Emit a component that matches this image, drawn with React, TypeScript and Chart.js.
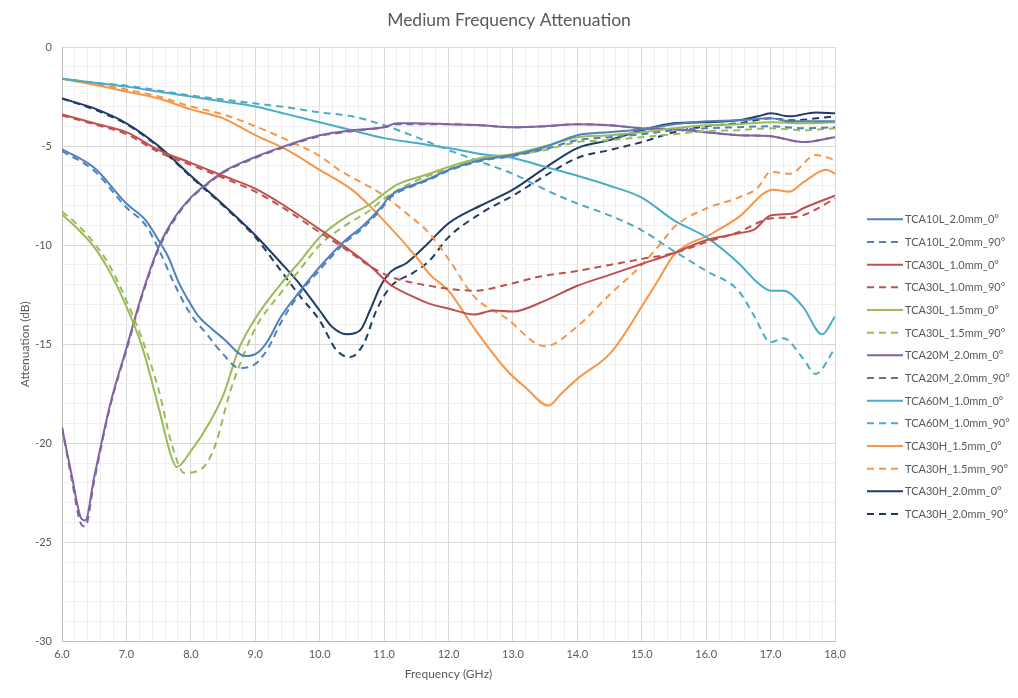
import React, { useEffect, useRef } from 'react';
import Chart from 'chart.js/auto';

type Pt = [number, number];

// [frequency GHz, attenuation dB]
const TCA10L_20_0: Pt[] = [[6.0,-5.15],[6.5,-6.1],[7.0,-7.9],[7.3,-8.75],[7.5,-9.76],[7.65,-10.6],[7.8,-11.8],[8.0,-13.0],[8.12,-13.6],[8.28,-14.1],[8.5,-14.7],[8.85,-15.6],[9.05,-15.4],[9.2,-14.8],[9.4,-13.6],[9.7,-12.3],[10.0,-11.1],[10.4,-9.75],[10.65,-9.1],[10.95,-8.1],[11.1,-7.5],[11.5,-6.9],[11.7,-6.65],[12.0,-6.2],[12.5,-5.7],[13.0,-5.45],[13.5,-5.05],[14.0,-4.45],[14.5,-4.3],[15.0,-4.15],[15.5,-3.9],[16.0,-3.75],[16.5,-3.7],[17.0,-3.6],[17.3,-3.75],[18.0,-3.75]];
const TCA10L_20_90: Pt[] = [[6.0,-5.25],[6.5,-6.25],[7.0,-8.1],[7.3,-9.0],[7.5,-10.2],[7.75,-12.0],[8.0,-13.5],[8.25,-14.5],[8.5,-15.5],[8.75,-16.2],[9.0,-16.0],[9.2,-15.2],[9.4,-13.9],[9.7,-12.4],[10.0,-11.25],[10.4,-9.85],[10.65,-9.2],[10.95,-8.2],[11.1,-7.6],[11.5,-6.95],[11.7,-6.7],[12.0,-6.25],[12.5,-5.75],[13.0,-5.5],[13.5,-5.15],[14.0,-4.7],[14.5,-4.55],[15.0,-4.4],[15.5,-4.2],[16.0,-4.1],[16.5,-4.05],[17.0,-4.0],[17.5,-4.1],[18.0,-4.05]];
const TCA30L_10_0: Pt[] = [[6.0,-3.4],[6.5,-3.85],[7.0,-4.3],[7.5,-5.2],[8.0,-5.85],[8.5,-6.5],[9.0,-7.15],[9.4,-7.9],[10.0,-9.2],[10.4,-10.1],[10.8,-11.1],[11.1,-12.0],[11.45,-12.6],[11.7,-12.95],[12.0,-13.2],[12.4,-13.5],[12.7,-13.3],[13.0,-13.35],[13.5,-12.8],[14.0,-12.05],[14.5,-11.5],[15.0,-10.95],[15.5,-10.4],[16.0,-9.75],[16.5,-9.4],[16.75,-9.2],[17.0,-8.5],[17.35,-8.4],[17.5,-8.15],[18.0,-7.5]];
const TCA30L_10_90: Pt[] = [[6.0,-3.45],[6.5,-3.9],[7.0,-4.4],[7.5,-5.3],[8.0,-5.95],[8.5,-6.6],[9.0,-7.3],[9.4,-8.05],[10.0,-9.35],[10.4,-10.2],[10.8,-11.1],[11.1,-11.6],[11.45,-11.9],[11.7,-12.05],[12.0,-12.2],[12.4,-12.3],[12.9,-12.0],[13.4,-11.6],[14.0,-11.3],[14.5,-11.0],[15.0,-10.7],[15.5,-10.4],[16.0,-9.85],[16.5,-9.35],[17.0,-8.65],[17.3,-8.6],[17.5,-8.5],[18.0,-7.65]];
const TCA30L_15_0: Pt[] = [[6.0,-8.45],[6.25,-9.2],[6.5,-10.1],[6.75,-11.4],[7.0,-13.1],[7.25,-15.2],[7.5,-18.2],[7.7,-20.7],[7.78,-21.2],[8.0,-20.4],[8.3,-18.9],[8.5,-17.6],[8.75,-15.2],[9.0,-13.7],[9.4,-11.95],[9.7,-10.8],[10.0,-9.6],[10.4,-8.6],[10.8,-7.9],[11.0,-7.4],[11.2,-6.95],[11.7,-6.4],[12.0,-6.05],[12.5,-5.6],[13.0,-5.4],[13.5,-5.0],[14.0,-4.55],[14.5,-4.45],[15.0,-4.3],[15.5,-4.1],[16.0,-3.95],[16.5,-3.9],[17.0,-3.8],[17.5,-3.85],[18.0,-3.8]];
const TCA30L_15_90: Pt[] = [[6.0,-8.3],[6.25,-9.0],[6.5,-9.9],[6.75,-11.1],[7.0,-12.8],[7.25,-14.8],[7.5,-17.3],[7.7,-20.0],[7.9,-21.5],[8.1,-21.4],[8.25,-21.0],[8.4,-19.9],[8.6,-17.5],[8.8,-15.7],[9.0,-14.2],[9.4,-12.4],[9.7,-11.2],[10.0,-10.0],[10.4,-9.0],[10.8,-8.2],[11.0,-7.65],[11.5,-6.75],[12.0,-6.15],[12.5,-5.7],[13.0,-5.45],[13.5,-5.2],[14.0,-4.8],[14.5,-4.7],[15.0,-4.55],[15.5,-4.4],[16.0,-4.25],[16.5,-4.2],[17.0,-4.1],[17.5,-4.2],[18.0,-4.1]];
const TCA20M_20_0: Pt[] = [[6.0,-19.2],[6.15,-21.6],[6.3,-23.8],[6.36,-23.9],[6.5,-21.7],[6.75,-18.0],[7.0,-15.2],[7.25,-12.4],[7.5,-10.1],[7.75,-8.6],[8.0,-7.6],[8.25,-6.9],[8.5,-6.3],[9.0,-5.55],[9.5,-4.95],[10.0,-4.45],[10.5,-4.2],[11.0,-4.05],[11.2,-3.85],[11.5,-3.85],[12.0,-3.9],[12.5,-3.95],[13.0,-4.05],[13.5,-4.0],[14.0,-3.9],[14.5,-3.95],[15.0,-4.1],[15.5,-4.15],[16.0,-4.3],[16.5,-4.45],[17.0,-4.5],[17.5,-4.8],[18.0,-4.55]];
const TCA20M_20_90: Pt[] = [[6.0,-19.2],[6.15,-21.8],[6.3,-24.1],[6.36,-24.2],[6.5,-21.9],[6.75,-18.1],[7.0,-15.3],[7.25,-12.5],[7.5,-10.2],[7.75,-8.7],[8.0,-7.65],[8.25,-6.95],[8.5,-6.35],[9.0,-5.6],[9.5,-5.0],[10.0,-4.5],[10.5,-4.25],[11.0,-4.05],[11.2,-3.9],[11.5,-3.9],[12.0,-3.9],[12.5,-3.95],[13.0,-4.05],[13.5,-4.0],[14.0,-3.9],[14.5,-3.95],[15.0,-4.1],[15.5,-4.15],[16.0,-4.3],[16.5,-4.45],[17.0,-4.5],[17.5,-4.8],[18.0,-4.55]];
const TCA60M_10_0: Pt[] = [[6.0,-1.6],[6.5,-1.8],[7.0,-2.0],[7.5,-2.25],[8.0,-2.5],[8.5,-2.75],[9.0,-3.0],[9.5,-3.4],[10.0,-3.8],[10.5,-4.2],[11.0,-4.6],[11.5,-4.85],[12.0,-5.1],[12.5,-5.4],[13.0,-5.6],[13.5,-6.05],[14.0,-6.5],[14.5,-7.0],[15.0,-7.6],[15.5,-8.75],[16.0,-9.6],[16.5,-10.9],[16.8,-11.9],[17.0,-12.3],[17.2,-12.3],[17.5,-13.1],[17.8,-14.5],[18.0,-13.6]];
const TCA60M_10_90: Pt[] = [[6.0,-1.6],[6.5,-1.8],[7.0,-1.95],[7.5,-2.2],[8.0,-2.45],[8.5,-2.65],[9.0,-2.85],[9.5,-3.05],[10.0,-3.3],[10.5,-3.5],[11.0,-3.95],[11.5,-4.55],[12.0,-5.2],[12.5,-5.8],[13.0,-6.4],[13.5,-7.2],[14.0,-7.9],[14.5,-8.5],[15.0,-9.25],[15.5,-10.3],[16.0,-11.3],[16.5,-12.3],[16.75,-13.6],[17.0,-14.9],[17.2,-14.7],[17.5,-15.7],[17.7,-16.5],[18.0,-15.2]];
const TCA30H_15_0: Pt[] = [[6.0,-1.6],[6.5,-1.9],[7.0,-2.25],[7.5,-2.6],[8.0,-3.15],[8.5,-3.6],[9.0,-4.45],[9.5,-5.2],[10.0,-6.2],[10.5,-7.2],[10.95,-8.6],[11.55,-10.8],[11.7,-11.45],[12.0,-12.3],[12.4,-14.2],[12.9,-16.3],[13.2,-17.2],[13.55,-18.1],[13.75,-17.5],[14.0,-16.75],[14.5,-15.5],[14.75,-14.4],[15.0,-13.1],[15.25,-11.8],[15.5,-10.5],[16.1,-9.4],[16.5,-8.6],[17.04,-7.2],[17.3,-7.3],[17.5,-6.85],[17.87,-6.2],[18.0,-6.4]];
const TCA30H_15_90: Pt[] = [[6.0,-1.6],[6.5,-1.85],[7.0,-2.15],[7.5,-2.5],[8.0,-3.0],[8.5,-3.4],[9.0,-4.0],[9.5,-4.7],[10.0,-5.5],[10.3,-6.2],[10.95,-7.4],[11.35,-8.4],[11.7,-9.4],[12.0,-10.7],[12.4,-12.6],[12.9,-13.7],[13.5,-15.1],[14.0,-14.1],[14.5,-12.5],[15.0,-11.0],[15.3,-9.9],[15.5,-9.1],[16.0,-8.15],[16.5,-7.6],[16.8,-7.1],[17.0,-6.3],[17.3,-6.4],[17.7,-5.45],[18.0,-5.7]];
const TCA30H_20_0: Pt[] = [[6.0,-2.6],[6.5,-3.1],[7.0,-3.85],[7.5,-5.0],[8.0,-6.5],[8.5,-7.95],[9.0,-9.5],[9.4,-10.9],[9.7,-12.0],[10.0,-13.3],[10.2,-14.15],[10.42,-14.5],[10.63,-14.3],[10.78,-13.3],[10.94,-12.1],[11.1,-11.35],[11.35,-10.9],[11.7,-9.85],[12.0,-8.9],[12.5,-8.0],[13.0,-7.2],[13.5,-6.1],[14.0,-5.1],[14.5,-4.7],[15.0,-4.2],[15.5,-3.85],[16.0,-3.8],[16.5,-3.7],[16.8,-3.5],[17.0,-3.35],[17.3,-3.5],[17.7,-3.3],[18.0,-3.35]];
const TCA30H_20_90: Pt[] = [[6.0,-2.6],[6.5,-3.15],[7.0,-3.9],[7.5,-5.05],[8.0,-6.55],[8.5,-8.0],[9.0,-9.6],[9.4,-11.3],[9.7,-12.6],[10.0,-13.8],[10.26,-15.3],[10.47,-15.65],[10.68,-15.0],[10.88,-13.3],[11.1,-12.1],[11.45,-11.4],[11.7,-10.8],[12.0,-9.6],[12.5,-8.4],[13.0,-7.5],[13.5,-6.5],[14.0,-5.6],[14.5,-5.2],[15.0,-4.8],[15.5,-4.3],[16.0,-4.0],[16.5,-3.85],[17.0,-3.6],[17.3,-3.7],[18.0,-3.5]];

const seriesNames = [
  'TCA10L_2.0mm_0°', 'TCA10L_2.0mm_90°',
  'TCA30L_1.0mm_0°', 'TCA30L_1.0mm_90°',
  'TCA30L_1.5mm_0°', 'TCA30L_1.5mm_90°',
  'TCA20M_2.0mm_0°', 'TCA20M_2.0mm_90°',
  'TCA60M_1.0mm_0°', 'TCA60M_1.0mm_90°',
  'TCA30H_1.5mm_0°', 'TCA30H_1.5mm_90°',
  'TCA30H_2.0mm_0°', 'TCA30H_2.0mm_90°',
];
const seriesData = [
  TCA10L_20_0, TCA10L_20_90, TCA30L_10_0, TCA30L_10_90, TCA30L_15_0, TCA30L_15_90,
  TCA20M_20_0, TCA20M_20_90, TCA60M_10_0, TCA60M_10_90, TCA30H_15_0, TCA30H_15_90,
  TCA30H_20_0, TCA30H_20_90,
];
const seriesColors = [
  '#4f81bd', '#4f81bd', '#c0504d', '#c0504d', '#9bbb59', '#9bbb59',
  '#8064a2', '#776c90', '#4bacc6', '#4bacc6', '#f79646', '#f79646',
  '#203c64', '#203c64',
];

const TITLE = 'Medium Frequency Attenuation';
const FONT = 'Lato, "Open Sans", sans-serif';
const TEXT = '#595959';
const DASH = [7, 5];

const isWhole = (v: number, step: number) => {
  const r = v / step;
  return Math.abs(r - Math.round(r)) < 1e-6;
};

// Title centred on the whole canvas plus an Excel-style legend right of the plot
const excelDecor = {
  id: 'excelDecor',
  afterDraw(chart: Chart) {
    const ctx = chart.ctx;
    ctx.save();
    ctx.fillStyle = TEXT;
    ctx.font = `17.5px ${FONT}`;
    ctx.textAlign = 'center';
    ctx.textBaseline = 'middle';
    ctx.fillText(TITLE, chart.width / 2, 20);

    const x0 = chart.chartArea.right + 32;
    const top = 219.3;
    const step = 22.67;
    ctx.font = `11px ${FONT}`;
    ctx.textAlign = 'left';
    chart.data.datasets.forEach((ds: any, i: number) => {
      const y = top + i * step;
      ctx.strokeStyle = ds.borderColor;
      ctx.lineWidth = 2;
      ctx.setLineDash(ds.borderDash || []);
      ctx.beginPath();
      ctx.moveTo(x0, y);
      ctx.lineTo(x0 + 36, y);
      ctx.stroke();
      ctx.setLineDash([]);
      ctx.fillText(ds.label, x0 + 38, y + 0.5);
    });
    ctx.restore();
  },
};

export default function App() {
  const canvasRef = useRef<HTMLCanvasElement>(null);

  useEffect(() => {
    if (!canvasRef.current) return;
    const chart = new Chart(canvasRef.current, {
      type: 'line',
      data: {
        datasets: seriesNames.map((name, i) => ({
          label: name,
          data: seriesData[i].map(([x, y]) => ({ x, y })),
          borderColor: seriesColors[i],
          backgroundColor: seriesColors[i],
          borderWidth: 2,
          borderDash: i % 2 === 1 ? DASH : [],
          pointRadius: 0,
          cubicInterpolationMode: 'monotone' as const,
          fill: false,
        })),
      },
      options: {
        animation: false,
        responsive: true,
        maintainAspectRatio: false,
        layout: { padding: { top: 47, left: 14, right: 183, bottom: 17 } },
        plugins: {
          title: { display: false },
          legend: { display: false },
          tooltip: { enabled: false },
        },
        scales: {
          x: {
            type: 'linear',
            min: 6,
            max: 18,
            ticks: {
              stepSize: 0.2,
              autoSkip: false,
              maxRotation: 0,
              color: TEXT,
              font: { family: FONT, size: 11 },
              padding: 6,
              callback: (v) => (isWhole(Number(v), 1) ? Number(v).toFixed(1) : ''),
            },
            grid: {
              drawTicks: false,
              color: (ctx) => (ctx.tick && isWhole(ctx.tick.value, 1) ? '#d9d9d9' : '#efefef'),
            },
            border: { color: '#bfbfbf' },
            title: {
              display: true,
              text: 'Frequency (GHz)',
              color: TEXT,
              font: { family: FONT, size: 12 },
              padding: { top: 0, bottom: 0 },
            },
          },
          y: {
            min: -30,
            max: 0,
            afterFit: (scale) => {
              scale.width = 48;
            },
            ticks: {
              stepSize: 1,
              autoSkip: false,
              color: TEXT,
              font: { family: FONT, size: 11 },
              padding: 10,
              callback: (v) => (isWhole(Number(v), 5) ? String(v) : ''),
            },
            grid: {
              drawTicks: false,
              color: (ctx) => (ctx.tick && isWhole(ctx.tick.value, 5) ? '#d9d9d9' : '#efefef'),
            },
            border: { color: '#bfbfbf' },
            title: {
              display: true,
              text: 'Attenuation (dB)',
              color: TEXT,
              font: { family: FONT, size: 12 },
              padding: { top: 4, bottom: 2 },
            },
          },
        },
      },
      plugins: [excelDecor],
    });
    return () => chart.destroy();
  }, []);

  return (
    <div style={{ position: 'absolute', left: 0, top: 0, width: 1018, height: 698, background: '#fff' }}>
      <canvas ref={canvasRef} />
    </div>
  );
}
